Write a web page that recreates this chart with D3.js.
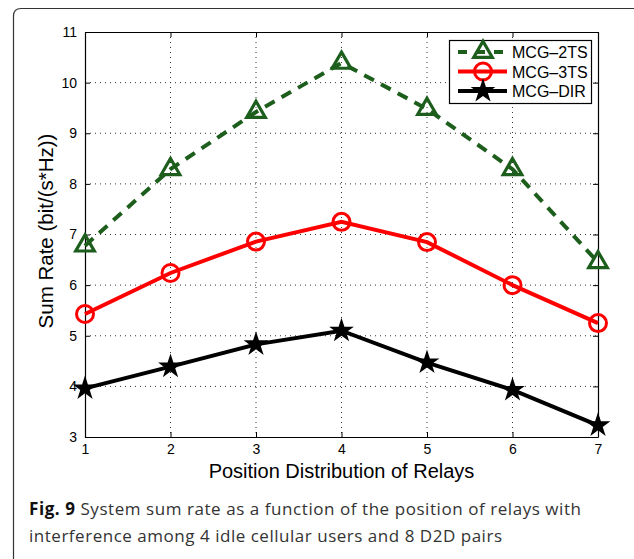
<!DOCTYPE html>
<html>
<head>
<meta charset="utf-8">
<script src="https://cdn.jsdelivr.net/npm/d3@7"></script>
<style>
  body { margin: 0; background: #fff; }
  svg { display: block; }
</style>
</head>
<body>
<div id="container"></div>
<script>
// data
let positions = [1, 2, 3, 4, 5, 6, 7];
let mcg2ts = [6.78, 8.29, 9.42, 10.39, 9.48, 8.29, 6.45];
let mcg3ts = [5.43, 6.24, 6.86, 7.25, 6.85, 6.0, 5.25];
let mcgdir = [3.96, 4.39, 4.83, 5.1, 4.47, 3.93, 3.23];
let seriesNames = ["MCG\u20132TS", "MCG\u20133TS", "MCG\u2013DIR"];
let xTicks = [1, 2, 3, 4, 5, 6, 7];
let yTicks = [3, 4, 5, 6, 7, 8, 9, 10, 11];

let w = 634;
let h = 559;
let padLeft = 85, padRight = 598, padTop = 32, padBottom = 437;

let viz = d3.select("#container")
  .append("svg")
    .attr("width", w)
    .attr("height", h);

// rounded frame around figure + caption (cut off at right/bottom)
viz.append("path")
  .attr("d", "M13.5,560 L13.5,16 Q13.5,8.5 21,8.5 L634,8.5")
  .attr("fill", "none")
  .attr("stroke", "#333")
  .attr("stroke-width", 1.2);

let xScale = d3.scaleLinear().domain([1, 7]).range([padLeft, padRight]);
let yScale = d3.scaleLinear().domain([3, 11]).range([padBottom, padTop]);

// grid
let grid = viz.append("g").attr("class", "grid");
grid.selectAll(".vgrid").data(xTicks.slice(1, -1)).enter()
  .append("line")
    .attr("x1", d => xScale(d)).attr("x2", d => xScale(d))
    .attr("y1", padTop).attr("y2", padBottom)
    .attr("stroke", "#333").attr("stroke-width", 1)
    .attr("stroke-dasharray", "1,4");
grid.selectAll(".hgrid").data(yTicks.slice(1, -1)).enter()
  .append("line")
    .attr("x1", padLeft).attr("x2", padRight)
    .attr("y1", d => yScale(d)).attr("y2", d => yScale(d))
    .attr("stroke", "#333").attr("stroke-width", 1)
    .attr("stroke-dasharray", "1,4");

// axes (ticks inside, box on)
let xAxis = d3.axisBottom(xScale).tickValues(xTicks).tickSizeInner(-5).tickSizeOuter(0).tickPadding(7).tickFormat(d3.format("d"));
let yAxis = d3.axisLeft(yScale).tickValues(yTicks).tickSizeInner(-5).tickSizeOuter(0).tickPadding(8).tickFormat(d3.format("d"));
let xTop = d3.axisTop(xScale).tickValues(xTicks).tickSizeInner(-5).tickSizeOuter(0).tickFormat("");
let yRight = d3.axisRight(yScale).tickValues(yTicks).tickSizeInner(-5).tickSizeOuter(0).tickFormat("");

function styleAxis(g){
  g.select(".domain").attr("stroke", "#000").attr("stroke-width", 1.2);
  g.selectAll(".tick line").attr("stroke", "#000");
  g.selectAll("text").attr("fill", "#000")
    .style("font-family", "'Liberation Sans', Arial, sans-serif")
    .style("font-size", "14px");
}
viz.append("g").attr("transform", "translate(0," + padBottom + ")").call(xAxis).call(styleAxis);
viz.append("g").attr("transform", "translate(" + padLeft + ",0)").call(yAxis).call(styleAxis);
viz.append("g").attr("transform", "translate(0," + padTop + ")").call(xTop).call(styleAxis);
viz.append("g").attr("transform", "translate(" + padRight + ",0)").call(yRight).call(styleAxis);

// axis labels
viz.append("text")
  .attr("x", (padLeft + padRight) / 2).attr("y", 478)
  .attr("text-anchor", "middle")
  .style("font-family", "'Liberation Sans', Arial, sans-serif")
  .style("font-size", "20px")
  .text("Position Distribution of Relays");
viz.append("text")
  .attr("transform", "translate(53,231) rotate(-90)")
  .attr("text-anchor", "middle")
  .style("font-family", "'Liberation Sans', Arial, sans-serif")
  .style("font-size", "20.5px")
  .text("Sum Rate (bit/(s*Hz))");

// series
let green = "#1d5e1d";
let series = [
  { name: seriesNames[0], values: mcg2ts, color: green, dash: "11,8", marker: "tri" },
  { name: seriesNames[1], values: mcg3ts, color: "#ff0000", dash: null, marker: "circ" },
  { name: seriesNames[2], values: mcgdir, color: "#000000", dash: null, marker: "star" }
];

let lineMaker = d3.line()
  .x((d, i) => xScale(positions[i]))
  .y(d => yScale(d));

let triPath = d3.symbol().type(d3.symbolTriangle).size(150)();
let starPath = d3.symbol().type(d3.symbolStar).size(190)();

function drawMarker(g, type, color){
  if(type == "tri"){
    g.append("path").attr("d", triPath)
      .attr("fill", "none").attr("stroke", color).attr("stroke-width", 3.2);
  }else if(type == "circ"){
    g.append("circle").attr("r", 8.5)
      .attr("fill", "none").attr("stroke", color).attr("stroke-width", 3);
  }else{
    g.append("path").attr("d", starPath).attr("fill", color);
  }
}

let graphGroup = viz.append("g").attr("class", "graphGroup");
series.forEach(function(s){
  graphGroup.append("path")
    .attr("d", lineMaker(s.values))
    .attr("fill", "none")
    .attr("stroke", s.color)
    .attr("stroke-width", 4)
    .attr("stroke-dasharray", s.dash);
  s.values.forEach(function(v, i){
    let g = graphGroup.append("g")
      .attr("transform", "translate(" + xScale(positions[i]) + "," + yScale(v) + ")");
    drawMarker(g, s.marker, s.color);
  });
});

// legend
let legend = viz.append("g").attr("transform", "translate(449,40)");
legend.append("rect")
  .attr("x", 0.5).attr("y", 0.5).attr("width", 142).attr("height", 63)
  .attr("fill", "#fff").attr("stroke", "#000").attr("stroke-width", 1.2);
series.forEach(function(s, i){
  let y = 12 + i * 19.5;
  legend.append("line")
    .attr("x1", 9).attr("x2", 58).attr("y1", y).attr("y2", y)
    .attr("stroke", s.color).attr("stroke-width", 4)
    .attr("stroke-dasharray", s.dash ? "9,9" : null);
  let g = legend.append("g").attr("transform", "translate(34," + y + ")");
  drawMarker(g, s.marker, s.color);
  legend.append("text")
    .attr("x", 63).attr("y", y + 6)
    .style("font-family", "'Liberation Sans', Arial, sans-serif")
    .style("font-size", "16px")
    .text(s.name);
});

// caption
let caption = viz.append("text")
  .attr("x", 29).attr("y", 515)
  .attr("textLength", 552)
  .style("font-family", "'Open Sans', 'Noto Sans', sans-serif")
  .style("font-size", "17px")
  .attr("fill", "#333");
caption.append("tspan").attr("font-weight", "bold").attr("fill", "#111").text("Fig. 9");
caption.append("tspan").text(" System sum rate as a function of the position of relays with");
viz.append("text")
  .attr("x", 29).attr("y", 542)
  .attr("textLength", 473)
  .style("font-family", "'Open Sans', 'Noto Sans', sans-serif")
  .style("font-size", "17px")
  .attr("fill", "#333")
  .text("interference among 4 idle cellular users and 8 D2D pairs");
</script>
</body>
</html>
